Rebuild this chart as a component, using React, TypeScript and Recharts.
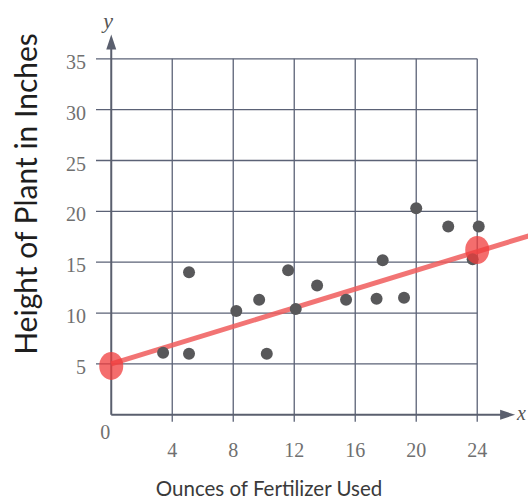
import {
  ComposedChart,
  Line,
  ReferenceDot,
  ReferenceLine,
  Scatter,
  XAxis,
  YAxis,
} from "recharts";

// ounces of fertilizer / plant height
const ounces = [3.4, 5.1, 5.1, 8.2, 9.7, 10.2, 11.6, 12.1, 13.5, 15.4, 17.4, 17.8, 19.2, 20, 22.1, 24.1, 23.7];
const heights = [6.1, 14, 6, 10.2, 11.3, 6, 14.2, 10.4, 12.7, 11.3, 11.4, 15.2, 11.5, 20.3, 18.5, 18.5, 15.3];

// hand-drawn trend line and its two marked points
const fitX = [0, 27.4];
const fitY = [5, 17.6];
const markX = [0, 24];
const markY = [4.8, 16.2];

const xTicks = [4, 8, 12, 16, 20, 24];
const yTicks = [5, 10, 15, 20, 25, 30, 35];

const points = ounces.map((x, i) => ({ x, y: heights[i] }));
const fit = fitX.map((x, i) => ({ x, y: fitY[i] }));
const marks = markX.map((x, i) => ({ x, y: markY[i] }));

const GRID = "#5b6276";
const AXIS = "#5a5f6e";
const TICK = { fill: "#707070", fontSize: 20, fontFamily: "Liberation Serif" };

export default function App() {
  return (
    <div style={{ position: "absolute", left: 0, top: 0, width: 528, height: 500, background: "#fff", overflow: "hidden" }}>
      <ComposedChart width={528} height={500} margin={{ top: 30, right: 0, bottom: 0, left: 56 }}>
        <XAxis
          type="number"
          dataKey="x"
          domain={[-1, 27.33]}
          allowDataOverflow
          ticks={xTicks}
          height={70}
          axisLine={false}
          tickLine={false}
          tickSize={0}
          tickMargin={13}
          tick={TICK}
        />
        <YAxis
          type="number"
          dataKey="y"
          domain={[-1.5, 37.83]}
          allowDataOverflow
          ticks={yTicks}
          width={40}
          axisLine={false}
          tickLine={false}
          tickSize={0}
          tickMargin={10}
          tick={{ ...TICK, dy: 3 }}
        />

        {yTicks.map((v) => (
          <ReferenceLine key={`h${v}`} segment={[{ x: -1, y: v }, { x: 24, y: v }]} stroke={GRID} strokeWidth={1.3} />
        ))}
        {xTicks.map((v) => (
          <ReferenceLine key={`v${v}`} segment={[{ x: v, y: 35 }, { x: v, y: -0.7 }]} stroke={GRID} strokeWidth={1.3} />
        ))}

        {/* axes with arrows */}
        <ReferenceLine segment={[{ x: 0, y: 0 }, { x: 0, y: 36.5 }]} stroke={AXIS} strokeWidth={2} />
        <ReferenceLine segment={[{ x: 0, y: 0 }, { x: 25.6, y: 0 }]} stroke={AXIS} strokeWidth={2} />
        <ReferenceDot
          x={0}
          y={36}
          r={0}
          shape={(p: any) => (
            <g>
              <path d={`M${p.cx},${p.cy - 14} L${p.cx - 5},${p.cy + 1} L${p.cx + 5},${p.cy + 1} Z`} fill={AXIS} />
              <text x={p.cx - 8} y={p.cy - 21} fontFamily="Liberation Serif" fontStyle="italic" fontSize={22} fill="#555">
                y
              </text>
            </g>
          )}
        />
        <ReferenceDot
          x={25.5}
          y={0}
          r={0}
          shape={(p: any) => (
            <g>
              <path d={`M${p.cx + 15},${p.cy} L${p.cx},${p.cy - 5} L${p.cx},${p.cy + 5} Z`} fill={AXIS} />
              <text x={p.cx + 17} y={p.cy + 5} fontFamily="Liberation Serif" fontStyle="italic" fontSize={20} fill="#555">
                x
              </text>
            </g>
          )}
        />
        <ReferenceDot
          x={0}
          y={0}
          r={0}
          shape={(p: any) => (
            <text x={p.cx - 6} y={p.cy + 24} textAnchor="middle" {...TICK}>
              0
            </text>
          )}
        />

        <Scatter
          data={points}
          dataKey="y"
          isAnimationActive={false}
          shape={(p: any) => <circle cx={p.cx} cy={p.cy} r={6} fill="#58585a" />}
        />
        <Line
          data={fit}
          dataKey="y"
          type="linear"
          stroke="#f05c5c"
          strokeOpacity={0.85}
          strokeWidth={5}
          dot={false}
          isAnimationActive={false}
        />
        <Scatter
          data={marks}
          dataKey="y"
          isAnimationActive={false}
          shape={(p: any) => <ellipse cx={p.cx} cy={p.cy} rx={12} ry={14} fill="#f03c3c" fillOpacity={0.75} />}
        />
      </ComposedChart>

      <div
        style={{
          position: "absolute",
          left: 25,
          top: 194,
          transform: "translate(-50%, -50%) rotate(-90deg)",
          whiteSpace: "nowrap",
          fontFamily: "Lato",
          fontSize: 30,
          color: "#1e1e1e",
        }}
      >
        Height of Plant in Inches
      </div>
      <div
        style={{
          position: "absolute",
          left: 269,
          top: 488,
          transform: "translate(-50%, -50%)",
          whiteSpace: "nowrap",
          fontFamily: "Lato",
          fontSize: 20.5,
          color: "#3a3a3a",
        }}
      >
        Ounces of Fertilizer Used
      </div>
    </div>
  );
}
